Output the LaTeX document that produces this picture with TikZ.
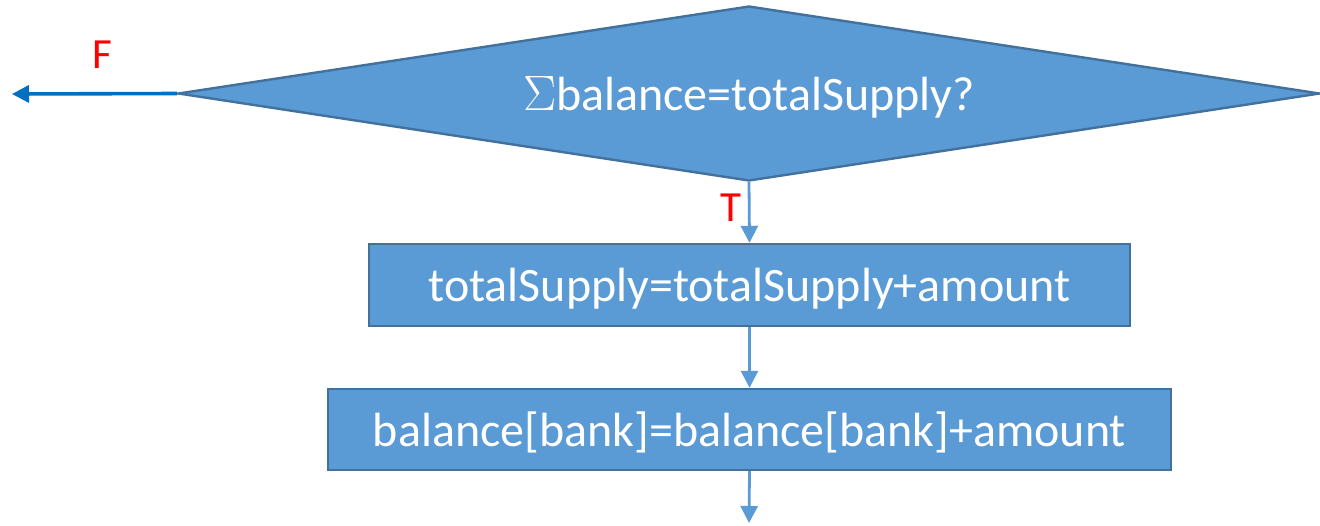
\documentclass[tikz,border=0pt]{standalone}
\usepackage{fontspec}
\setmainfont{Carlito}
\usetikzlibrary{shapes.geometric,arrows.meta}
\definecolor{boxfill}{HTML}{5B9BD5}
\definecolor{boxline}{HTML}{41719C}
\definecolor{falsearrow}{HTML}{0070C0}
\definecolor{labelred}{HTML}{FF0000}
\tikzset{
  procbox/.style={draw=boxline, fill=boxfill, line width=1.2pt, text=white,
    font=\fontsize{24}{29}\selectfont, inner sep=0pt, text depth=0pt},
  decision/.style={diamond, draw=boxline, fill=boxfill, line width=1.2pt, text=white,
    font=\fontsize{24}{29}\selectfont, inner sep=0pt, aspect=6.5, text depth=0pt},
  flow/.style={draw=boxfill, line width=1.4pt, -{Triangle[length=8.5pt,width=8.5pt]}},
  falseflow/.style={draw=falsearrow, line width=1.8pt, -{Triangle[length=8.5pt,width=8.5pt]}},
  branch/.style={text=labelred, font=\fontsize{21.5}{26}\selectfont}
}
\begin{document}
\begin{tikzpicture}[x=0.5pt, y=-0.5pt]
  \useasboundingbox (0,0) rectangle (1320,525);
  % decision diamond
  \node[decision, minimum width=571pt, minimum height=87.5pt] (check) at (749,93.5)
    {$\Sigma$balance=totalSupply?};
  % process boxes
  \node[procbox, minimum width=380.5pt, minimum height=41pt] (supply) at (749.5,285)
    {totalSupply=totalSupply+amount};
  \node[procbox, minimum width=421.5pt, minimum height=40.5pt] (bank) at (749.5,429.5)
    {balance[bank]=balance[bank]+amount};
  % end points of open arrows
  \coordinate (fout) at (12,94);
  \coordinate (next) at (749,523);
  % connectors
  \draw[falseflow] (check.west) -- (fout);
  \draw[flow] (check.south) -- (supply.north);
  \draw[flow] (supply.south) -- (bank.north);
  \draw[flow] (bank.south) -- (next);
  % branch labels
  \node[branch] (flab) at (102,55) {F};
  \node[branch] (tlab) at (731,208) {T};
\end{tikzpicture}
\end{document}
